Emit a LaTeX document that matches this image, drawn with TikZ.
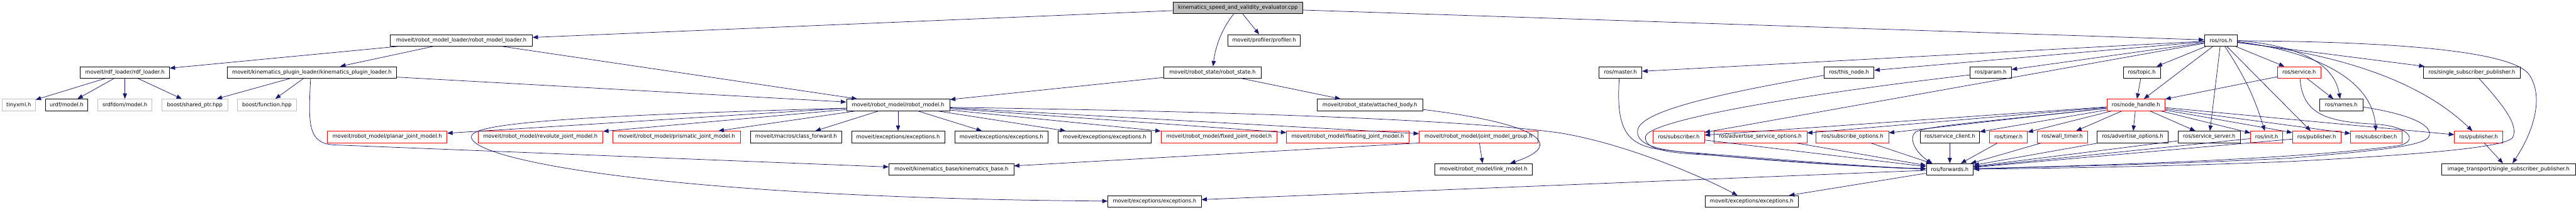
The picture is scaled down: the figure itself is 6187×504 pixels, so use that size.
\documentclass[tikz,border=0pt]{standalone}
\usepackage{fontspec}
\setmainfont{DejaVu Sans}
\usetikzlibrary{arrows.meta,calc}
\definecolor{edgec}{HTML}{191970}
\definecolor{grayb}{HTML}{BFBFBF}
\begin{document}
\begin{tikzpicture}[x=0.5pt,y=-0.5pt,
  font=\fontsize{6.3}{7.5}\selectfont,
  box/.style={draw=black, line width=0.55pt, fill=white, minimum height=14pt, inner sep=0pt, anchor=center},
  bw/.style={minimum width=#1*0.5pt},
  hl/.style={box, draw=red},
  ext/.style={box, draw=grayb},
  rootb/.style={box, fill=grayb},
  dep/.style={draw=edgec, line width=0.55pt, -{Triangle[length=6.5pt,width=5pt]}}]
\useasboundingbox (0,0) rectangle (6187,504);
\fill[white] (0,0) rectangle (6187,504);

% row 0
\node[rootb,bw=312] (kse) at (2973,19) {kinematics\_speed\_and\_validity\_evaluator.cpp};
% row 1
\node[box,bw=341] (rml) at (1108,97) {moveit/robot\_model\_loader/robot\_model\_loader.h};
\node[box,bw=174] (prof) at (3036,97) {moveit/profiler/profiler.h};
\node[box,bw=79] (ros) at (5334,97) {ros/ros.h};
% row 2
\node[box,bw=214] (rdf) at (300,174) {moveit/rdf\_loader/rdf\_loader.h};
\node[box,bw=406] (kpl) at (749,174) {moveit/kinematics\_plugin\_loader/kinematics\_plugin\_loader.h};
\node[box,bw=235] (rstate) at (2912,174) {moveit/robot\_state/robot\_state.h};
\node[box,bw=103] (master) at (3892,174) {ros/master.h};
\node[box,bw=120] (thisnode) at (4441,174) {ros/this\_node.h};
\node[box,bw=100] (param) at (4781,174) {ros/param.h};
\node[box,bw=89] (topic) at (5144,174) {ros/topic.h};
\node[hl,bw=103] (service) at (5522,174) {ros/service.h};
\node[box,bw=233] (ssp) at (5937,174) {ros/single\_subscriber\_publisher.h};
% row 3
\node[ext,bw=80] (tinyxml) at (45,252) {tinyxml.h};
\node[box,bw=102] (urdf) at (160,252) {urdf/model.h};
\node[ext,bw=130] (srdf) at (300,252) {srdfdom/model.h};
\node[ext,bw=158] (sptr) at (468,252) {boost/shared\_ptr.hpp};
\node[ext,bw=141] (func) at (641,252) {boost/function.hpp};
\node[box,bw=248] (rmodel) at (2157,252) {moveit/robot\_model/robot\_model.h};
\node[box,bw=253] (abody) at (3290,252) {moveit/robot\_state/attached\_body.h};
\node[hl,bw=140] (nh) at (5130,252) {ros/node\_handle.h};
\node[box,bw=104] (names) at (5623,252) {ros/names.h};
% row 4
\node[hl,bw=287] (planar) at (930,329) {moveit/robot\_model/planar\_joint\_model.h};
\node[hl,bw=300] (revol) at (1298,329) {moveit/robot\_model/revolute\_joint\_model.h};
\node[hl,bw=307] (prism) at (1625,329) {moveit/robot\_model/prismatic\_joint\_model.h};
\node[box,bw=220] (cfwd) at (1912,329) {moveit/macros/class\_forward.h};
\node[box,bw=224] (exA) at (2157,329) {moveit/exceptions/exceptions.h};
\node[box,bw=224] (exB) at (2405,329) {moveit/exceptions/exceptions.h};
\node[box,bw=224] (exC) at (2653,329) {moveit/exceptions/exceptions.h};
\node[hl,bw=279] (fixed) at (2928,329) {moveit/robot\_model/fixed\_joint\_model.h};
\node[hl,bw=294] (floating) at (3237,329) {moveit/robot\_model/floating\_joint\_model.h};
\node[hl,bw=285] (jmg) at (3551,329) {moveit/robot\_model/joint\_model\_group.h};
\node[hl,bw=123] (sub1) at (4032,329) {ros/subscriber.h};
\node[hl,bw=223] (aso) at (4228,329) {ros/advertise\_service\_options.h};
\node[hl,bw=174] (subo) at (4449,329) {ros/subscribe\_options.h};
\node[box,bw=143] (sclient) at (4683,329) {ros/service\_client.h};
\node[hl,bw=91] (timer) at (4824,329) {ros/timer.h};
\node[hl,bw=121] (wtimer) at (4953,329) {ros/wall\_timer.h};
\node[box,bw=171] (advo) at (5122,329) {ros/advertise\_options.h};
\node[box,bw=149] (sserver) at (5306,329) {ros/service\_server.h};
\node[hl,bw=77] (init) at (5444,329) {ros/init.h};
\node[hl,bw=116] (pub1) at (5564,329) {ros/publisher.h};
\node[hl,bw=123] (sub2) at (5707,329) {ros/subscriber.h};
\node[hl,bw=116] (pub2) at (5953,329) {ros/publisher.h};
% row 5
\node[box,bw=300] (kbase) at (2285,407) {moveit/kinematics\_base/kinematics\_base.h};
\node[box,bw=235] (link) at (3563,407) {moveit/robot\_model/link\_model.h};
\node[box,bw=113] (fwd) at (4683,407) {ros/forwards.h};
\node[box,bw=321] (itssp) at (6025,407) {image\_transport/single\_subscriber\_publisher.h};
% row 6
\node[box,bw=224] (exD) at (2773,484) {moveit/exceptions/exceptions.h};
\node[box,bw=224] (exE) at (4207,484) {moveit/exceptions/exceptions.h};

% ---- edges: left part
\draw[dep] (kse) -- (rml);
\draw[dep] (kse) -- (prof);
\draw[dep] ($(kse.south)+(-10,0)$) .. controls (2930,75) and (2918,120) .. (rstate);
\draw[dep] (kse) -- (ros);
\draw[dep] (rml) -- (rdf);
\draw[dep] (rml) -- (kpl);
\draw[dep] (rml) -- (rmodel);
\foreach \t in {tinyxml,urdf,srdf,sptr} \draw[dep] (rdf) -- (\t);
\draw[dep] (kpl) -- (sptr);
\draw[dep] (kpl) -- (func);
\draw[dep] (kpl) -- (rmodel);
\draw[dep] ($(kpl.south)+(-3,0)$) .. controls (740,300) and (740,343) .. (800,348) -- (kbase);
\foreach \t in {planar,revol,prism,cfwd,exA,exB,exC,fixed,floating,jmg} \draw[dep] (rmodel) -- (\t);
\draw[dep] ($(rmodel.west)+(0,8)$) .. controls (1300,280) and (1128,300) .. (1132,330)
   .. controls (1140,385) and (1600,475) .. (exD);
\draw[dep] ($(rmodel.east)+(0,6)$) .. controls (3000,268) and (3550,290) .. (3750,320)
   .. controls (3900,345) and (4080,420) .. ($(exE.north)+(-34,0)$);
\draw[dep] (rstate) -- (rmodel);
\draw[dep] (rstate) -- (abody);
\draw[dep] ($(abody.east)+(0,11)$) .. controls (3680,295) and (3770,345) .. ($(link.north)+(64,0)$);
\draw[dep] (jmg) -- (link);
\draw[dep] (jmg.south west) -- (kbase);
\draw[dep] (fwd) -- (exD);
\draw[dep] (fwd) -- (exE);

% ---- edges: ros part
\foreach \t in {master,thisnode,param,sub1,topic,nh,sserver,service,ssp,pub1} \draw[dep] (ros) -- (\t);
\draw[dep] (ros) to[bend left=8] (init);
\draw[dep] (ros.east) .. controls (5520,110) and (5605,150) .. (names);
\draw[dep] ($(ros.east)+(0,3)$) .. controls (5600,130) and (5700,210) .. (sub2);
\draw[dep] ($(ros.east)+(0,5)$) .. controls (5700,140) and (5850,230) .. (pub2);
\draw[dep] ($(ros.east)+(0,1)$) .. controls (5800,100) and (6040,128) .. (6075,180)
   .. controls (6105,225) and (6095,300) .. (itssp);
\draw[dep] (topic) -- (nh);
\draw[dep] (service) -- (nh);
\draw[dep] (service) -- (names);
\foreach \t in {sub1,aso,subo,sclient,timer,wtimer,advo,sserver,init,pub1,sub2,pub2} \draw[dep] (nh) -- (\t);
\draw[dep] ($(nh.west)+(0,8)$) .. controls (4800,290) and (4620,302) .. (4600,318)
   .. controls (4582,335) and (4605,370) .. ($(fwd.north west)+(15,0)$);
\draw[dep] ($(master.south)+(-3,0)$) .. controls (3882,300) and (3900,345) .. (3980,358)
   .. controls (4200,385) and (4450,400) .. (fwd);
\draw[dep] ($(thisnode.west)+(0,7)$) .. controls (4100,230) and (3935,270) .. (3933,315)
   .. controls (3931,350) and (3990,363) .. (4080,368)
   .. controls (4300,385) and (4500,402) .. (fwd);
\draw[dep] ($(param.west)+(0,6)$) .. controls (4300,230) and (3960,290) .. (3952,328)
   .. controls (3948,360) and (4010,368) .. (4100,372)
   .. controls (4300,388) and (4500,403) .. (fwd);
\foreach \t in {sub1,aso,subo,sclient,timer,wtimer,advo,sserver,init,pub1} \draw[dep] (\t) -- (fwd);
\draw[dep] ($(service.south)+(2,0)$) .. controls (5530,270) and (5580,292) .. (5700,298)
   .. controls (5790,302) and (5810,340) .. (5760,350)
   .. controls (5500,385) and (5000,398) .. (fwd);
\draw[dep] ($(names.east)+(0,5)$) .. controls (5790,275) and (5840,300) .. (5835,325)
   .. controls (5830,352) and (5700,362) .. (5500,380)
   .. controls (5200,395) and (4950,400) .. (fwd);
\draw[dep] ($(ssp.south)+(17,0)$) .. controls (6010,250) and (6050,300) .. (6035,330)
   .. controls (6020,355) and (5800,372) .. (5500,388)
   .. controls (5200,400) and (4950,404) .. (fwd);
\draw[dep] (pub2) -- (itssp);
\end{tikzpicture}
\end{document}
